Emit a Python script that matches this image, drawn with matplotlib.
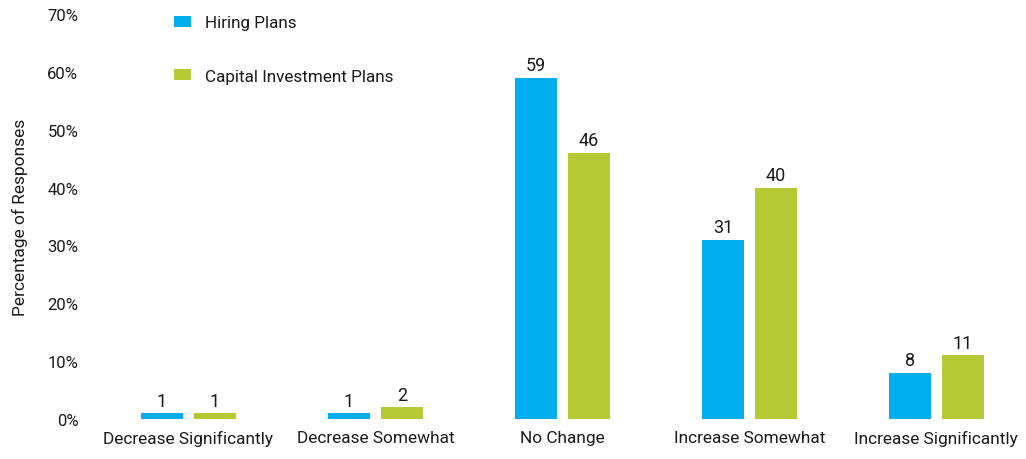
import matplotlib
matplotlib.use("Agg")
import matplotlib.pyplot as plt
import numpy as np
from matplotlib import font_manager

categories = ["Decrease Significantly", "Decrease Somewhat", "No Change",
              "Increase Somewhat", "Increase Significantly"]
hiring = [1, 1, 59, 31, 8]
capital = [1, 2, 46, 40, 11]
series_names = ["Hiring Plans", "Capital Investment Plans"]
yticks = [0, 10, 20, 30, 40, 50, 60, 70]

available = {f.name for f in font_manager.fontManager.ttflist}
family = "Liberation Sans Narrow" if "Liberation Sans Narrow" in available else "Roboto"
plt.rcParams["font.family"] = [family, "DejaVu Sans"]

BLUE = "#00AEEF"
GREEN = "#B5C935"
TXT = "#1a1a1a"

fig = plt.figure(figsize=(10.26, 4.6), dpi=100)
ax = fig.add_axes([95 / 1026, 40 / 460, 931 / 1026, 405 / 460])

x = np.arange(len(categories))
w = 0.225
off = 0.142
b1 = ax.bar(x - off, hiring, w, color=BLUE, label=series_names[0])
b2 = ax.bar(x + off, capital, w, color=GREEN, label=series_names[1])

for bars, vals in ((b1, hiring), (b2, capital)):
    for r, v in zip(bars, vals):
        ax.text(r.get_x() + r.get_width() / 2, v + 0.6, f"{v}", ha="center",
                va="bottom", fontsize=13, color=TXT)

ax.set_xlim(-0.5, 4.48)
ax.set_ylim(0, 70)
ax.set_yticks(yticks)
ax.set_yticklabels([f"{t}%" for t in yticks], fontsize=12, color=TXT)
ax.set_xticks(x)
ax.set_xticklabels(categories, fontsize=12.4, color=TXT)
ax.tick_params(axis="both", length=0)
ax.tick_params(axis="y", pad=12)
ax.tick_params(axis="x", pad=8)
for s in ax.spines.values():
    s.set_visible(False)

ax.set_ylabel("Percentage of Responses", fontsize=12.5, color=TXT, labelpad=14)

ax.legend(loc="upper left", bbox_to_anchor=(0.068, 1.035), frameon=False,
          fontsize=12.3, handlelength=1.0, handleheight=0.6, handletextpad=0.85,
          labelspacing=2.25, labelcolor=TXT)

fig.savefig("out.png", dpi=100)
